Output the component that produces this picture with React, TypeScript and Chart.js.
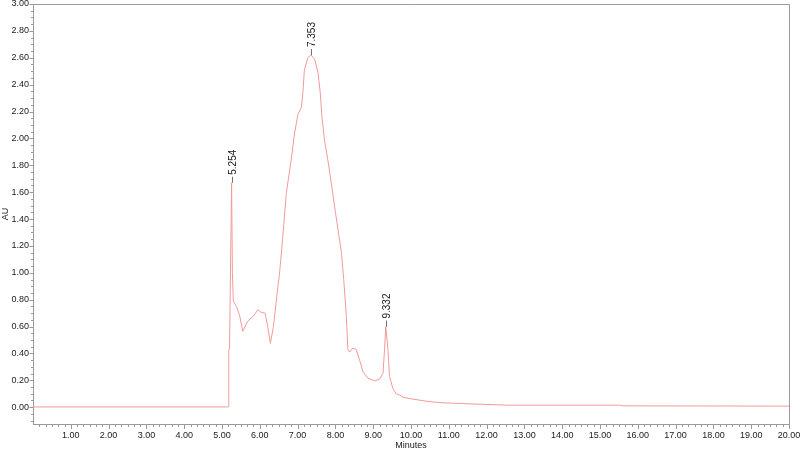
import { useEffect, useRef } from 'react';
import { Chart, registerables } from 'chart.js';

Chart.register(...registerables);

const FONT = 'Arial, "Liberation Sans", Helvetica, sans-serif';
const TEXT = '#1a1a1a';
const AXIS = '#9a9a9a';
const TRACE = '#f29a9a';

// retention time (minutes) and detector response (AU)
const times = [
  0, 5.15, 5.17, 5.18, 5.2, 5.254, 5.275, 5.3, 5.38, 5.46, 5.55, 5.68, 5.82, 5.95, 6.04, 6.14, 6.21, 6.28,
  6.36, 6.48, 6.52, 6.61, 6.7, 6.83, 6.92, 7.01, 7.1, 7.14, 7.18, 7.27, 7.353, 7.45, 7.54, 7.6, 7.64, 7.71, 7.8,
  7.89, 7.98, 8.07, 8.16, 8.22, 8.29, 8.33, 8.38, 8.46, 8.55, 8.64, 8.73, 8.86, 9.04, 9.17, 9.26, 9.3, 9.332,
  9.39, 9.43, 9.52, 9.61, 9.7, 9.79, 10.05, 10.4, 10.76, 11.07, 11.82, 12.61, 15.52, 15.61, 20,
];
const absorbance = [
  0.002, 0.002, 0.004, 0.42, 0.45, 1.67, 1.0, 0.79, 0.75, 0.69, 0.565, 0.64, 0.675, 0.725, 0.705, 0.7, 0.6, 0.475,
  0.6, 0.9, 0.99, 1.27, 1.59, 1.84, 2.04, 2.18, 2.23, 2.34, 2.51, 2.6, 2.62, 2.59, 2.49, 2.34, 2.17, 1.99, 1.84,
  1.67, 1.49, 1.32, 1.15, 0.95, 0.675, 0.43, 0.41, 0.44, 0.43, 0.35, 0.265, 0.216, 0.196, 0.209, 0.253, 0.43, 0.6,
  0.43, 0.23, 0.14, 0.099, 0.09, 0.074, 0.06, 0.045, 0.034, 0.03, 0.022, 0.015, 0.015, 0.01, 0.008,
];

// integrated peaks: apex time, apex height, printed label
const peakTimes = [5.254, 7.353, 9.332];
const peakHeights = [1.67, 2.62, 0.6];
const peakLabels = ['5.254', '7.353', '9.332'];

const xTicks = [1, 2, 3, 4, 5, 6, 7, 8, 9, 10, 11, 12, 13, 14, 15, 16, 17, 18, 19, 20];
const yTicks = [0, 0.2, 0.4, 0.6, 0.8, 1.0, 1.2, 1.4, 1.6, 1.8, 2.0, 2.2, 2.4, 2.6, 2.8, 3.0];

// minor ticks, peak markers and the closing frame
const decorations = {
  id: 'decorations',
  afterDatasetsDraw(chart: any) {
    const { ctx, chartArea: a, scales } = chart;
    const x = scales.x;
    const y = scales.y;
    const L = Math.round(a.left) + 0.5;
    const B = Math.round(a.bottom) + 0.5;
    ctx.save();
    ctx.strokeStyle = AXIS;
    ctx.lineWidth = 1;
    ctx.beginPath();
    ctx.moveTo(L, Math.round(a.top) + 0.5);
    ctx.lineTo(Math.round(a.right) + 0.5, Math.round(a.top) + 0.5);
    ctx.lineTo(Math.round(a.right) + 0.5, B);
    // y: every 0.05 AU, long at every 0.2
    for (let i = -2; i <= 60; i++) {
      const py = Math.round(y.getPixelForValue(i * 0.05)) + 0.5;
      const len = i % 4 === 0 ? 4 : 2.5;
      ctx.moveTo(L - len, py);
      ctx.lineTo(L, py);
    }
    // x: every 10 s, long at every minute
    for (let i = 1; i <= 120; i++) {
      const px = Math.round(x.getPixelForValue(i / 6)) + 0.5;
      const len = i % 6 === 0 ? 4.5 : 2.5;
      ctx.moveTo(px, B);
      ctx.lineTo(px, B + len);
    }
    ctx.stroke();

    ctx.font = `10px ${FONT}`;
    ctx.fillStyle = TEXT;
    ctx.textAlign = 'left';
    ctx.textBaseline = 'middle';
    peakTimes.forEach((t, i) => {
      const px = Math.round(x.getPixelForValue(t)) + 0.5;
      const py = y.getPixelForValue(peakHeights[i]);
      ctx.strokeStyle = '#707070';
      ctx.beginPath();
      ctx.moveTo(px, py);
      ctx.lineTo(px, py - 6);
      ctx.stroke();
      ctx.save();
      ctx.translate(px + 0.5, py - 8);
      ctx.rotate(-Math.PI / 2);
      ctx.fillText(peakLabels[i], 0, 0);
      ctx.restore();
    });
    ctx.restore();
  },
};

export default function App() {
  const canvasRef = useRef<HTMLCanvasElement>(null);

  useEffect(() => {
    if (!canvasRef.current) return;
    const tickFont = { family: FONT, size: 9 };
    const chart = new Chart(canvasRef.current, {
      type: 'line',
      data: {
        datasets: [{
          data: times.map((t, i) => ({ x: t, y: absorbance[i] })),
          borderColor: TRACE,
          borderWidth: 1,
          pointRadius: 0,
          tension: 0,
          fill: false,
        }],
      },
      options: {
        animation: false,
        responsive: false,
        layout: { padding: { top: 4, right: 11, left: 0, bottom: 0 } },
        plugins: { legend: { display: false }, tooltip: { enabled: false } },
        scales: {
          x: {
            type: 'linear',
            min: 0,
            max: 20,
            afterBuildTicks: (s: any) => { s.ticks = xTicks.map(v => ({ value: v })); },
            afterFit: (s: any) => { s.height = 30; s.paddingLeft = 0; s.paddingRight = 0; },
            ticks: { callback: (v: any) => Number(v).toFixed(2), font: tickFont, color: TEXT, padding: 6, autoSkip: false, maxRotation: 0 },
            grid: { drawOnChartArea: false, drawTicks: false },
            border: { display: true, color: AXIS },
            title: { display: true, text: 'Minutes', font: tickFont, color: TEXT, padding: { top: 0, bottom: 3 } },
          },
          y: {
            type: 'linear',
            min: -0.125,
            max: 3,
            afterBuildTicks: (s: any) => { s.ticks = yTicks.map(v => ({ value: v })); },
            afterFit: (s: any) => { s.width = 33; s.paddingTop = 0; s.paddingBottom = 0; },
            ticks: { callback: (v: any) => Number(v).toFixed(2), font: tickFont, color: TEXT, padding: 4, autoSkip: false },
            grid: { drawOnChartArea: false, drawTicks: false },
            border: { display: true, color: AXIS },
            title: { display: true, text: 'AU', font: tickFont, color: TEXT, padding: 0 },
          },
        },
      },
      plugins: [decorations],
    });
    return () => chart.destroy();
  }, []);

  return (
    <div style={{ position: 'absolute', left: 0, top: 0, width: 800, height: 454, background: '#fff' }}>
      <canvas ref={canvasRef} width={800} height={454} />
    </div>
  );
}
